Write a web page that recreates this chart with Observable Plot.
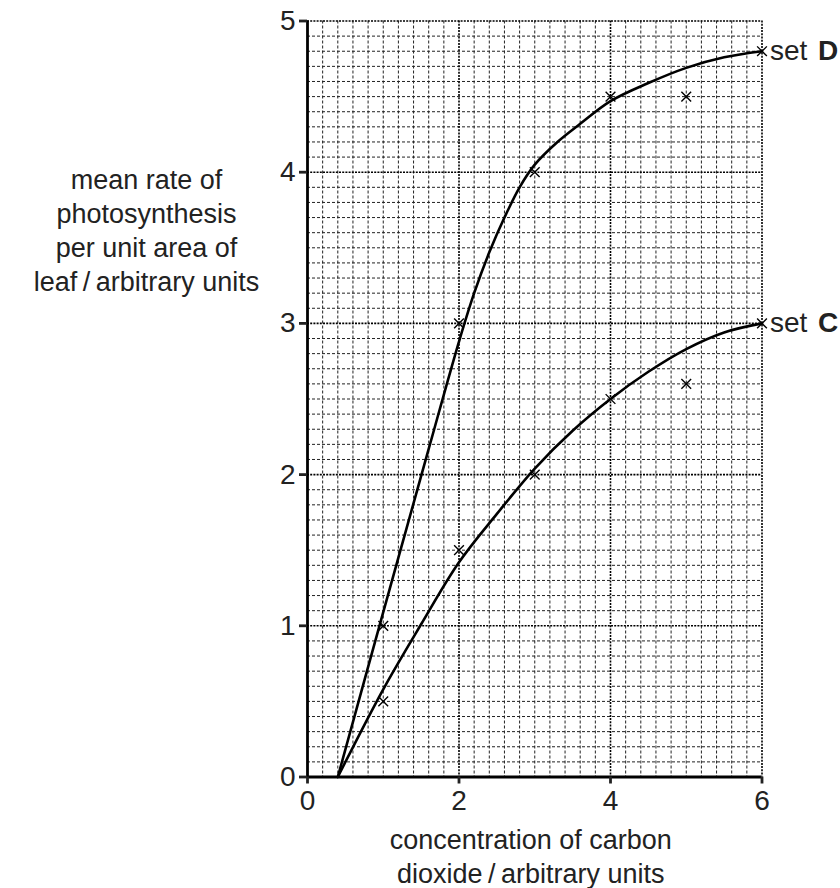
<!DOCTYPE html>
<html><head><meta charset="utf-8">
<script src="https://cdn.jsdelivr.net/npm/d3@7"></script>
<script src="https://cdn.jsdelivr.net/npm/@observablehq/plot@0.6"></script>
<style>body{margin:0;background:#fff} svg{display:block}</style>
</head><body><div id="chart"></div>
<script>
// measured points (crosses)
const concentration = [1, 2, 3, 4, 5, 6];
const setD = [1, 3, 4, 4.5, 4.5, 4.8];
const setC = [0.5, 1.5, 2, 2.5, 2.6, 3];
// hand-drawn curves of best fit
const curveDx = [0.4, 1.0, 1.6, 2.0, 2.2, 2.4, 2.6, 2.8, 3.0, 3.3, 3.6, 4.0, 4.5, 5.0, 5.5, 6.0];
const curveDy = [0, 1.09, 2.17, 2.88, 3.2, 3.47, 3.7, 3.9, 4.05, 4.2, 4.32, 4.47, 4.59, 4.69, 4.76, 4.8];
const curveCx = [0.4, 1.0, 1.5, 2.0, 2.5, 3.0, 3.5, 4.0, 4.5, 5.0, 5.5, 6.0];
const curveCy = [0, 0.58, 1.01, 1.42, 1.74, 2.04, 2.29, 2.5, 2.68, 2.83, 2.94, 3.0];
// ticks and labels
const xTicks = [0, 2, 4, 6];
const yTicks = [0, 1, 2, 3, 4, 5];
const seriesLetters = ["D", "C"];
const seriesEndY = [4.8, 3.0];
const yTitle = "mean rate of\nphotosynthesis\nper unit area of\nleaf\u2009/\u2009arbitrary units";
const xTitle = "concentration of carbon\ndioxide\u2009/\u2009arbitrary units";

const font = "'Liberation Sans', Arial, Helvetica, sans-serif";
const eps = 1e-6;
const xMinor = d3.range(0, 6 + eps, 0.2).filter(v => Math.abs(v / 2 - Math.round(v / 2)) > eps);
const xMajor = [2, 4, 6];
const yMinor = d3.range(0, 5 + eps, 0.1).filter(v => Math.abs(v - Math.round(v)) > eps);
const yMajor = [1, 2, 3, 4, 5];

const chart = Plot.plot({
  width: 840,
  height: 888,
  marginLeft: 307,
  marginRight: 78.5,
  marginTop: 20.5,
  marginBottom: 111.5,
  style: {fontFamily: font, background: "#fff", color: "#222"},
  x: {domain: [0, 6]},
  y: {domain: [0, 5]},
  marks: [
    Plot.ruleX(xMinor, {stroke: "#222", strokeWidth: 1, strokeDasharray: "3,2"}),
    Plot.ruleY(yMinor, {stroke: "#222", strokeWidth: 1, strokeDasharray: "3,2"}),
    Plot.ruleX(xMajor, {stroke: "#000", strokeWidth: 1.6, strokeDasharray: "2,1.2"}),
    Plot.ruleY(yMajor, {stroke: "#000", strokeWidth: 1.6, strokeDasharray: "2,1.2"}),
    Plot.line(curveDx, {x: d => d, y: (d, i) => curveDy[i], curve: "catmull-rom", stroke: "#000", strokeWidth: 2.6}),
    Plot.line(curveCx, {x: d => d, y: (d, i) => curveCy[i], curve: "catmull-rom", stroke: "#000", strokeWidth: 2.6}),
    Plot.dot(concentration, {x: d => d, y: (d, i) => setD[i], symbol: "times", r: 4.5, stroke: "#000", strokeWidth: 1.4}),
    Plot.dot(concentration, {x: d => d, y: (d, i) => setC[i], symbol: "times", r: 4.5, stroke: "#000", strokeWidth: 1.4}),
    Plot.ruleX([0], {stroke: "#000", strokeWidth: 2.8}),
    Plot.ruleY([0], {stroke: "#000", strokeWidth: 2.8}),
    Plot.axisY(yTicks, {tickSize: 8, tickPadding: 4, fontSize: 28, strokeWidth: 2.8, label: null, fill: "#222", tickFormat: d3.format("d")}),
    Plot.axisX(xTicks, {tickSize: 7, tickPadding: 6, fontSize: 28, strokeWidth: 2.8, label: null, fill: "#222", tickFormat: d3.format("d")}),
    Plot.text(seriesLetters, {x: () => 6, y: (d, i) => seriesEndY[i], text: () => "set", dx: 8, textAnchor: "start", fontSize: 28, fill: "#222"}),
    Plot.text(seriesLetters, {x: () => 6, y: (d, i) => seriesEndY[i], text: d => d, dx: 56, textAnchor: "start", fontSize: 28, fontWeight: "bold", fill: "#222"}),
    Plot.text([yTitle], {frameAnchor: "top-left", dx: -161, dy: 208, textAnchor: "middle", lineAnchor: "middle", lineHeight: 1.26, fontSize: 27, fill: "#222"}),
    Plot.text([xTitle], {frameAnchor: "bottom", dx: -4, dy: 78, textAnchor: "middle", lineAnchor: "middle", lineHeight: 1.26, fontSize: 27, fill: "#222"})
  ]
});
document.getElementById("chart").appendChild(chart);
</script>
</body></html>
